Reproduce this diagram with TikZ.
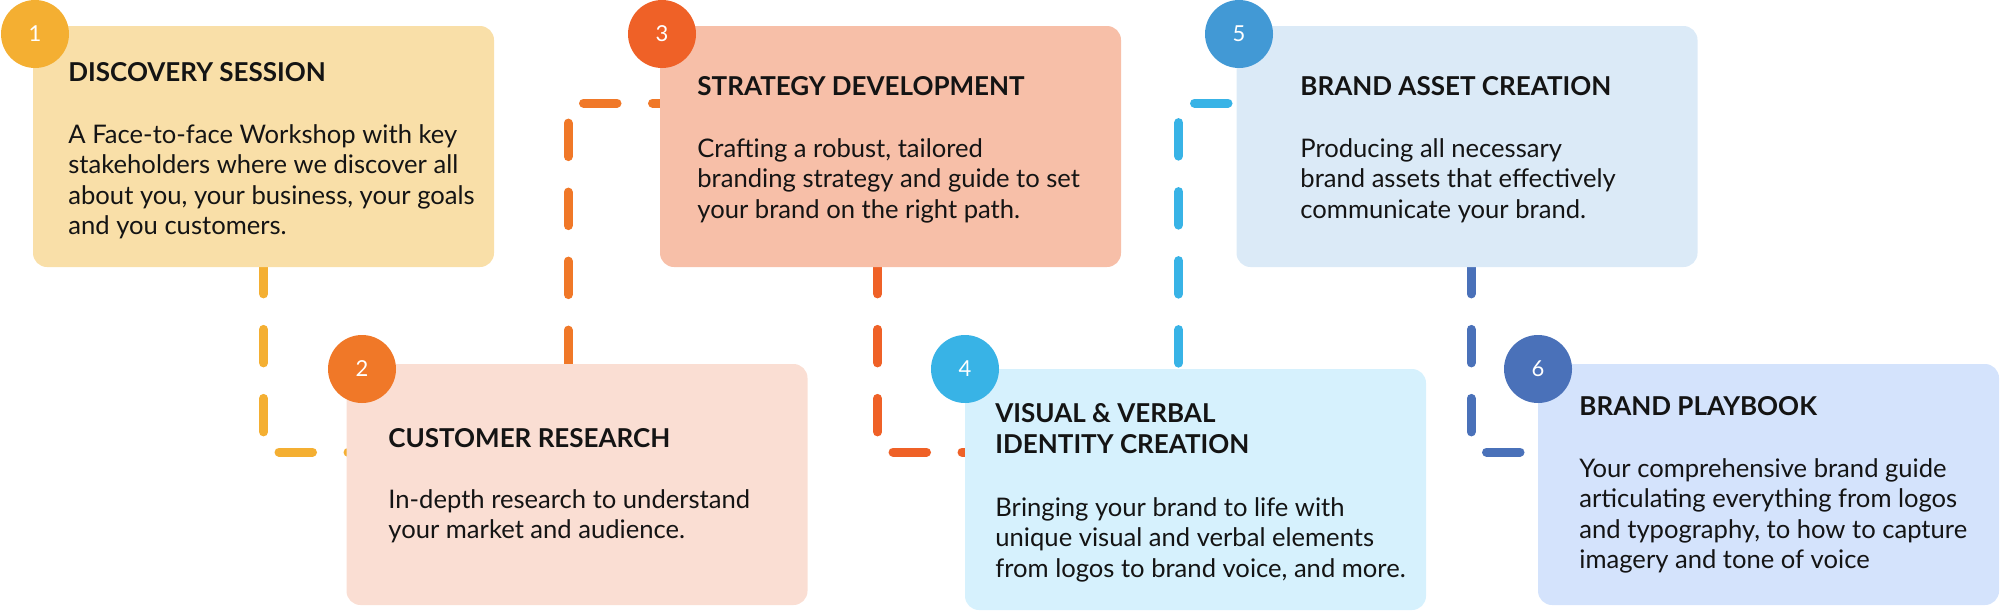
\documentclass[tikz,border=0pt]{standalone}
\usepackage{fontspec}
\setmainfont{Lato}
\usetikzlibrary{calc}
\pgfdeclarelayer{bg}
\pgfsetlayers{bg,main}
\definecolor{ink}{HTML}{141414}
\definecolor{fA}{HTML}{F9DFA8}
\definecolor{fB}{HTML}{FADED3}
\definecolor{fC}{HTML}{F7BFA8}
\definecolor{fD}{HTML}{D6F1FD}
\definecolor{fE}{HTML}{DBEAF7}
\definecolor{fF}{HTML}{D4E3FC}
\definecolor{cA}{HTML}{F4AF32}
\definecolor{cB}{HTML}{F07828}
\definecolor{cC}{HTML}{EF6127}
\definecolor{cD}{HTML}{38B3E6}
\definecolor{cE}{HTML}{4299D5}
\definecolor{cF}{HTML}{4A71B9}
\newcommand{\mlines}[1]{\parbox[t]{240pt}{\raggedright #1}}
\begin{document}
\begin{tikzpicture}[x=0.5pt,y=-0.5pt,
  card/.style={draw=none,rounded corners=7pt,inner sep=0pt,minimum width=230.5pt,minimum height=120.5pt},
  num/.style={circle,draw=none,inner sep=0pt,minimum size=34pt,text=white,font=\fontsize{11}{12}\selectfont},
  ttl/.style={inner sep=0pt,anchor=base west,text=ink,font=\bfseries\fontsize{13}{15.5}\selectfont},
  body/.style={inner sep=0pt,anchor=base west,text=ink,font=\fontsize{12.8}{15.3}\selectfont},
  conn/.style={line width=4.5pt,line cap=round,dash pattern=on 16.75pt off 17.75pt}]
\useasboundingbox (0,0) rectangle (2000,611);
% cards
\node[card,fill=fA] (b1) at (263.5,146.5) {};
\node[card,fill=fB] (b2) at (577,484.5) {};
\node[card,fill=fC] (b3) at (890.5,146.5) {};
\node[card,fill=fD] (b4) at (1195.5,489.5) {};
\node[card,fill=fE] (b5) at (1467,146.5) {};
\node[card,fill=fF] (b6) at (1768.5,484.5) {};
% number badges
\node[num,fill=cA] (n1) at (35,34) {1};
\node[num,fill=cB] (n2) at (362,369) {2};
\node[num,fill=cC] (n3) at (662,34) {3};
\node[num,fill=cD] (n4) at (965,369) {4};
\node[num,fill=cE] (n5) at (1239,34) {5};
\node[num,fill=cF] (n6) at (1538,369) {6};
% titles
\node[ttl] (t1) at (68,81) {DISCOVERY SESSION};
\node[ttl] (t2) at (388,447) {CUSTOMER RESEARCH};
\node[ttl] (t3) at (697,95) {STRATEGY DEVELOPMENT};
\node[ttl] (t4) at (995,422) {\mlines{VISUAL \& VERBAL\\IDENTITY CREATION}};
\node[ttl] (t5) at (1300,95) {BRAND ASSET CREATION};
\node[ttl] (t6) at (1579,415) {BRAND PLAYBOOK};
% bodies
\node[body] (d1) at (68,143) {\mlines{A Face-to-face Workshop with key\\stakeholders where we discover all\\about you, your business, your goals\\and you customers.}};
\node[body] (d2) at (388,508) {\mlines{In-depth research to understand\\your market and audience.}};
\node[body] (d3) at (697,157) {\mlines{Crafting a robust, tailored\\branding strategy and guide to set\\your brand on the right path.}};
\node[body] (d4) at (995,516) {\mlines{Bringing your brand to life with\\unique visual and verbal elements\\from logos to brand voice, and more.}};
\node[body] (d5) at (1300,157) {\mlines{Producing all necessary\\brand assets that effectively\\communicate your brand.}};
\node[body] (d6) at (1579,477) {\mlines{Your comprehensive brand guide\\articulating everything from logos\\and typography, to how to capture\\imagery and tone of voice}};
% connectors
\begin{pgfonlayer}{bg}
\draw[conn,draw=cA,dash phase=3.5pt] ($(b1.south west)+(231,0)$) |- ($(b2.west)+(10,-32.5)$);
\draw[conn,draw=cB] ($(b2.north west)+(222,0)$) |- ($(b3.west)+(10,-43.5)$);
\draw[conn,draw=cC,dash phase=3.5pt] ($(b3.south west)+(218,0)$) |- ($(b4.west)+(10,-37.5)$);
\draw[conn,draw=cD,dash phase=31.75pt] ($(b4.north west)+(214,0)$) |- ($(b5.west)+(10,-43.5)$);
\draw[conn,draw=cF,dash phase=3.5pt] ($(b5.south west)+(235,0)$) |- ($(b6.west)+(10,-32.5)$);
\end{pgfonlayer}
\end{tikzpicture}
\end{document}
